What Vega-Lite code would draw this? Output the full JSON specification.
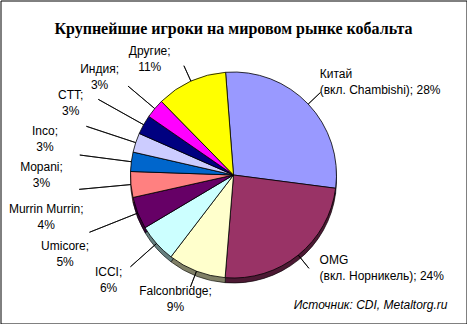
{
  "$schema": "https://vega.github.io/schema/vega-lite/v6.json",
  "width": 466,
  "height": 323,
  "autosize": {"type": "none"},
  "padding": 0.5,
  "background": "white",
  "view": {"stroke": "black", "strokeWidth": 1},
  "title": {
    "text": "Крупнейшие игроки на мировом рынке кобальта",
    "font": "Liberation Serif",
    "fontSize": 16,
    "fontWeight": "bold",
    "color": "black",
    "anchor": "middle",
    "frame": "group",
    "baseline": "top",
    "offset": -40
  },
  "config": {
    "text": {"font": "Liberation Sans", "fontSize": 12, "lineBreak": "\n", "lineHeight": 16, "color": "black"}
  },
  "datasets": {
    "shares": [
      {"idx": 1, "name": "Китай", "share": 28, "label": "Китай\n(вкл. Chambishi); 28%"},
      {"idx": 2, "name": "OMG", "share": 24, "label": "OMG\n(вкл. Норникель); 24%"},
      {"idx": 3, "name": "Falconbridge", "share": 9, "label": "Falconbridge;\n9%"},
      {"idx": 4, "name": "ICCI", "share": 6, "label": "ICCI;\n6%"},
      {"idx": 5, "name": "Umicore", "share": 5, "label": "Umicore;\n5%"},
      {"idx": 6, "name": "Murrin Murrin", "share": 4, "label": "Murrin Murrin;\n4%"},
      {"idx": 7, "name": "Mopani", "share": 3, "label": "Mopani;\n3%"},
      {"idx": 8, "name": "Inco", "share": 3, "label": "Inco;\n3%"},
      {"idx": 9, "name": "CTT", "share": 3, "label": "CTT;\n3%"},
      {"idx": 10, "name": "Индия", "share": 3, "label": "Индия;\n3%"},
      {"idx": 11, "name": "Другие", "share": 11, "label": "Другие;\n11%"}
    ]
  },
  "data": {"name": "shares"},
  "encoding": {
    "theta": {"field": "share", "type": "quantitative", "stack": true, "scale": {"range": [-0.077, 6.2062]}},
    "order": {"field": "idx", "type": "quantitative"}
  },
  "layer": [
    {
      "mark": {"type": "arc", "radius": 103, "yOffset": 18, "stroke": "black", "strokeWidth": 0.6},
      "encoding": {
        "color": {
          "field": "name", "type": "nominal", "legend": null,
          "scale": {
            "domain": ["Китай", "OMG", "Falconbridge", "ICCI", "Umicore", "Murrin Murrin", "Mopani", "Inco", "CTT", "Индия", "Другие"],
            "range": ["#9999FF", "#993366", "#FFFFCC", "#CCFFFF", "#660066", "#FF8080", "#0066CC", "#CCCCFF", "#000080", "#FF00FF", "#FFFF00"]
          }
        }
      }
    },
    {
      "mark": {"type": "arc", "radius": 103, "yOffset": 18, "fill": "black", "fillOpacity": 0.5, "stroke": null}
    },
    {
      "mark": {"type": "arc", "radius": 103, "yOffset": 13, "stroke": "black", "strokeWidth": 0.8},
      "encoding": {
        "color": {"field": "name", "type": "nominal", "legend": null}
      }
    },
    {
      "mark": {"type": "arc", "yOffset": 13, "padAngle": 3, "radius": 120, "radius2": 103, "filled": false, "fill": null, "stroke": "black", "strokeWidth": 0.8},
      "encoding": {
        "opacity": {"condition": {"test": "datum.name==='Falconbridge'||datum.name==='Другие'||datum.name==='Китай'||datum.name==='OMG'", "value": 1}, "value": 0}
      }
    },
    {
      "mark": {"type": "arc", "yOffset": 13, "padAngle": 3, "radius": 138, "radius2": 103, "filled": false, "fill": null, "stroke": "black", "strokeWidth": 0.8},
      "encoding": {
        "opacity": {"condition": {"test": "datum.name==='ICCI'||datum.name==='Индия'", "value": 1}, "value": 0}
      }
    },
    {
      "mark": {"type": "arc", "yOffset": 13, "padAngle": 3, "radius": 155, "radius2": 103, "filled": false, "fill": null, "stroke": "black", "strokeWidth": 0.8},
      "encoding": {
        "opacity": {"condition": {"test": "datum.name==='Umicore'||datum.name==='Murrin Murrin'||datum.name==='Mopani'||datum.name==='Inco'||datum.name==='CTT'", "value": 1}, "value": 0}
      }
    },
    {
      "mark": {"type": "text", "yOffset": 13, "dy": -8, "align": "left", "baseline": "middle", "radius": 127, "thetaOffset": -0.065},
      "encoding": {
        "text": {"field": "label"},
        "opacity": {"condition": {"test": "datum.name==='Китай'||datum.name==='OMG'", "value": 1}, "value": 0}
      }
    },
    {
      "mark": {"type": "text", "yOffset": 13, "dy": -8, "align": "center", "baseline": "middle", "radius": 137, "thetaOffset": 0.07},
      "encoding": {
        "text": {"field": "label"},
        "opacity": {"condition": {"test": "datum.name==='Falconbridge'", "value": 1}, "value": 0}
      }
    },
    {
      "mark": {"type": "text", "yOffset": 13, "dy": -8, "align": "center", "baseline": "middle", "radius": 163, "thetaOffset": 0.03},
      "encoding": {
        "text": {"field": "label"},
        "opacity": {"condition": {"test": "datum.name==='ICCI'", "value": 1}, "value": 0}
      }
    },
    {
      "mark": {"type": "text", "yOffset": 13, "dy": -8, "align": "center", "baseline": "middle", "radius": 186, "thetaOffset": -0.06},
      "encoding": {
        "text": {"field": "label"},
        "opacity": {"condition": {"test": "datum.name==='Umicore'", "value": 1}, "value": 0}
      }
    },
    {
      "mark": {"type": "text", "yOffset": 13, "dy": -8, "align": "center", "baseline": "middle", "radius": 192, "thetaOffset": -0.13},
      "encoding": {
        "text": {"field": "label"},
        "opacity": {"condition": {"test": "datum.name==='Murrin Murrin'||datum.name==='Mopani'||datum.name==='Inco'", "value": 1}, "value": 0}
      }
    },
    {
      "mark": {"type": "text", "yOffset": 13, "dy": -8, "align": "center", "baseline": "middle", "radius": 178, "thetaOffset": -0.094},
      "encoding": {
        "text": {"field": "label"},
        "opacity": {"condition": {"test": "datum.name==='CTT'", "value": 1}, "value": 0}
      }
    },
    {
      "mark": {"type": "text", "yOffset": 13, "dy": -8, "align": "center", "baseline": "middle", "radius": 166, "thetaOffset": -0.068},
      "encoding": {
        "text": {"field": "label"},
        "opacity": {"condition": {"test": "datum.name==='Индия'", "value": 1}, "value": 0}
      }
    },
    {
      "mark": {"type": "text", "yOffset": 13, "dy": -8, "align": "center", "baseline": "middle", "radius": 143, "thetaOffset": -0.2},
      "encoding": {
        "text": {"field": "label"},
        "opacity": {"condition": {"test": "datum.name==='Другие'", "value": 1}, "value": 0}
      }
    },
    {
      "data": {"values": [{"source": "Источник: CDI, Metaltorg.ru"}]},
      "mark": {"type": "text", "align": "right", "baseline": "alphabetic", "fontStyle": "italic", "dx": -19, "dy": -15},
      "encoding": {
        "theta": null,
        "order": null,
        "x": {"value": "width"},
        "y": {"value": "height"},
        "text": {"field": "source"}
      }
    }
  ]
}
